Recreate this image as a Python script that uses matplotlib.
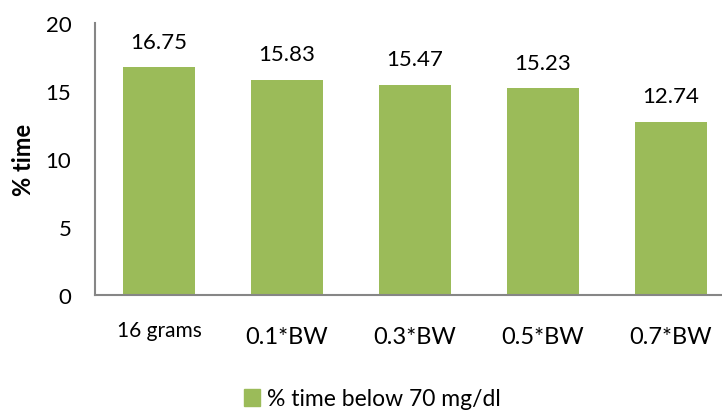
import matplotlib
matplotlib.use("Agg")
import matplotlib.pyplot as plt
from matplotlib.patches import Patch

# dados
categorias = ["16 grams", "0.1*BW", "0.3*BW", "0.5*BW", "0.7*BW"]
valores = [16.75, 15.83, 15.47, 15.23, 12.74]
rotulos = ["16.75", "15.83", "15.47", "15.23", "12.74"]
serie = "% time below 70 mg/dl"

verde = "#9BBB59"
cinza = "#868686"

plt.rcParams["font.family"] = ["Lato", "DejaVu Sans"]

fig = plt.figure(figsize=(7.22, 4.14), dpi=100)
ax = fig.add_axes([95 / 722, 118 / 414, 640 / 722, 272 / 414])

x = list(range(len(categorias)))
ax.bar(x, valores, width=0.56, color=verde, zorder=2)

for xi, v, r in zip(x, valores, rotulos):
    ax.annotate(r, (xi, v), xytext=(0, 11), textcoords="offset points",
                ha="center", va="bottom", fontsize=16)

ax.set_xlim(-0.5, 4.5)
ax.set_ylim(0, 20)
ax.set_yticks([0, 5, 10, 15, 20])
ax.tick_params(axis="y", length=0, labelsize=16, pad=17)
ax.tick_params(axis="x", length=0, pad=22)
ax.set_xticks(x)
ax.set_xticklabels(categorias)
for i, lbl in enumerate(ax.get_xticklabels()):
    if i == 0:
        lbl.set_fontsize(15)
        lbl.set_y(0.02)
    else:
        lbl.set_fontsize(17)

for s in ["top", "right"]:
    ax.spines[s].set_visible(False)
ax.spines["left"].set_color(cinza)
ax.spines["bottom"].set_color(cinza)
ax.spines["left"].set_linewidth(1.5)
ax.spines["bottom"].set_linewidth(1.5)

ax.set_ylabel("% time", fontsize=17, fontweight="bold", labelpad=8)

fig.legend(handles=[Patch(color=verde, label=serie)], loc="center",
           bbox_to_anchor=(372 / 722, 1 - 400 / 414), frameon=False,
           fontsize=16.5, handlelength=0.7, handleheight=0.7, handletextpad=0.3)

fig.savefig("out.png", dpi=100)
